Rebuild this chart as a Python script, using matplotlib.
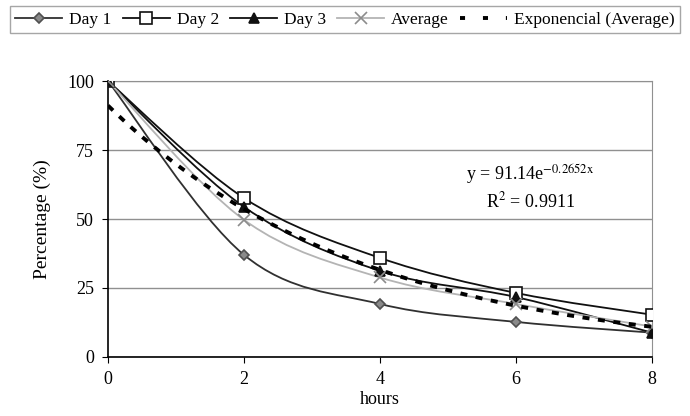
import numpy as np
from matplotlib import pyplot as plt
from matplotlib.path import Path
from matplotlib.patches import PathPatch
from matplotlib.lines import Line2D

plt.rcParams['font.family'] = ['Liberation Serif', 'DejaVu Serif']

hours = [0, 2, 4, 6, 8]
day1 = [100, 37, 19.2, 12.7, 8.8]
day2 = [100, 57.6, 35.9, 23.2, 15.3]
day3 = [100, 54.4, 31.2, 21.7, 8.8]
average = [100, 49.7, 28.8, 19.2, 11.0]
fit_a, fit_b = 91.14, -0.2652
y_ticks = [0, 25, 50, 75, 100]


def smooth_path(xs, ys):
    # Excel-style smoothed line: Bezier segments through the data points
    p = np.column_stack([xs, ys]).astype(float)
    pts = np.vstack([p[0], p, p[-1]])
    verts = [p[0]]
    codes = [Path.MOVETO]
    for i in range(1, len(pts) - 2):
        c1 = pts[i] + (pts[i + 1] - pts[i - 1]) / 6
        c2 = pts[i + 1] - (pts[i + 2] - pts[i]) / 6
        verts += [c1, c2, pts[i + 1]]
        codes += [Path.CURVE4] * 3
    return Path(verts, codes)


fig = plt.figure(figsize=(6.9, 4.16), dpi=100)
ax = fig.add_axes([0.1565, 0.142, 0.7885, 0.663])

series = [
    (day1, '#303030', 'D', '#8a8a8a', '#505050', 5, 'Day 1'),
    (day2, '#101010', 's', 'white', '#101010', 8, 'Day 2'),
    (day3, '#101010', '^', '#101010', '#101010', 7, 'Day 3'),
    (average, '#b4b4b4', 'x', 'none', '#8c8c8c', 8, 'Average'),
]
handles = []
for ys, col, mk, mfc, mec, ms, lab in series:
    ax.add_patch(PathPatch(smooth_path(hours, ys), facecolor='none',
                           edgecolor=col, lw=1.3, zorder=3))
    ax.plot(hours, ys, ls='none', marker=mk, mfc=mfc, mec=mec, ms=ms,
            mew=1.2, zorder=4)
    handles.append(Line2D([], [], color=col, lw=1.3, marker=mk, mfc=mfc,
                          mec=mec, ms=ms, mew=1.2, label=lab))

xf = np.linspace(0, 8, 200)
ax.plot(xf, fit_a * np.exp(fit_b * xf), color='black', lw=2.8,
        ls=(0, (1.8, 2.2)), zorder=5)
handles.append(Line2D([], [], color='black', lw=2.8, ls=(0, (1.3, 4.6)),
                      label='Exponencial (Average)'))

ax.set_xlim(0, 8)
ax.set_ylim(0, 100)
ax.set_xticks(hours)
ax.set_yticks(y_ticks)
ax.yaxis.grid(True, color='#909090', lw=1)
ax.set_axisbelow(True)
for s in ['top', 'right']:
    ax.spines[s].set_color('#909090')
for s in ['left', 'bottom']:
    ax.spines[s].set_color('black')
    ax.spines[s].set_linewidth(1.2)
ax.tick_params(direction='out', length=4, labelsize=13, pad=6)
ax.set_xlabel('hours', fontsize=13, labelpad=2)
ax.set_ylabel('Percentage (%)', fontsize=14, labelpad=12)

ax.text(6.2, 66, r'y = 91.14e$^{\mathrm{-0.2652x}}$', fontsize=13,
        ha='center', va='center', math_fontfamily='stix')
ax.text(6.22, 56.5, r'R$^{\mathrm{2}}$ = 0.9911', fontsize=13, ha='center',
        va='center', math_fontfamily='stix')

fig.legend(handles=handles, loc='upper center', bbox_to_anchor=(0.5, 0.985),
           ncol=5, frameon=True, fancybox=False, edgecolor='#909090',
           fontsize=12.5, handlelength=2.7, handletextpad=0.4,
           columnspacing=0.65, borderpad=0.3, borderaxespad=0)

fig.savefig('out.png', dpi=100)
